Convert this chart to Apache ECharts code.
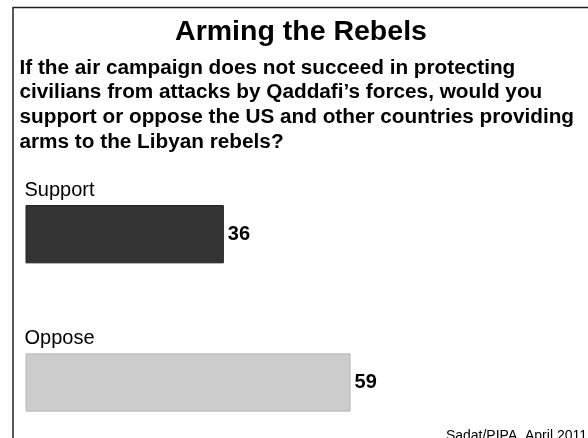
<!DOCTYPE html>
<html>
<head>
<meta charset="utf-8">
<script src="https://cdn.jsdelivr.net/npm/echarts@6/dist/echarts.min.js"></script>
<style>
  html, body { margin: 0; padding: 0; background: #fff; }
  #chart { width: 588px; height: 438px; }
</style>
</head>
<body>
<div id="chart"></div>
<script>
const chartTitle = 'Arming the Rebels';
const questionLines = [
  'If the air campaign does not succeed in protecting',
  'civilians from attacks by Qaddafi\u2019s forces, would you',
  'support or oppose the US and other countries providing',
  'arms to the Libyan rebels?'
];
const sourceNote = 'Sadat/PIPA, April 2011';
const categories = ['Support', 'Oppose'];
const values = [36, 59];

const barFills = ['#333333', '#cccccc'];
const barEdges = ['#222222', '#b9b9b9'];
const FONT = '"Liberation Sans", Arial, Helvetica, sans-serif';

const chart = echarts.init(document.getElementById('chart'), null, { renderer: 'canvas' });

chart.setOption({
  animation: false,
  backgroundColor: '#ffffff',
  title: [
    {
      text: chartTitle,
      left: 301, top: 17.3, textAlign: 'center', padding: 0,
      textStyle: { fontFamily: FONT, fontSize: 28.5, fontWeight: 'bold', color: '#000', lineHeight: 30 }
    },
    {
      text: questionLines.join('\n'),
      left: 19.5, top: 55.6, padding: 0,
      textStyle: { fontFamily: FONT, fontSize: 20.75, fontWeight: 'bold', color: '#000', lineHeight: 24.7 }
    },
    {
      text: sourceNote,
      right: 1, top: 428, padding: 0,
      textStyle: { fontFamily: FONT, fontSize: 14, fontWeight: 'normal', color: '#000', lineHeight: 16 }
    }
  ],
  graphic: [
    {
      type: 'rect', silent: true, z: 100,
      shape: { x: 13, y: 7.5, width: 700, height: 500 },
      style: { fill: 'none', stroke: '#222', lineWidth: 1.5 }
    }
  ],
  grid: { left: 25.5, width: 551, top: 234.2, height: 148.3, containLabel: false },
  xAxis: { type: 'value', min: 0, max: 100, show: false },
  yAxis: { type: 'category', data: categories, inverse: true, boundaryGap: false, show: false },
  series: [
    {
      type: 'bar',
      barWidth: 58.3,
      data: values.map((v, i) => ({
        value: v,
        itemStyle: { color: barFills[i], borderColor: barEdges[i], borderWidth: 1 }
      })),
      label: {
        show: true, position: 'right', distance: 4, formatter: '{c}',
        fontFamily: FONT, fontSize: 20, fontWeight: 'bold', color: '#000'
      }
    },
    {
      type: 'bar',
      barWidth: 58.3,
      barGap: '-100%',
      silent: true,
      data: values,
      itemStyle: { color: 'rgba(0,0,0,0)' },
      label: {
        show: true, position: [-1, -15], align: 'left', verticalAlign: 'middle',
        formatter: '{b}',
        fontFamily: FONT, fontSize: 20, fontWeight: 'normal', color: '#000'
      }
    }
  ]
});
</script>
</body>
</html>
